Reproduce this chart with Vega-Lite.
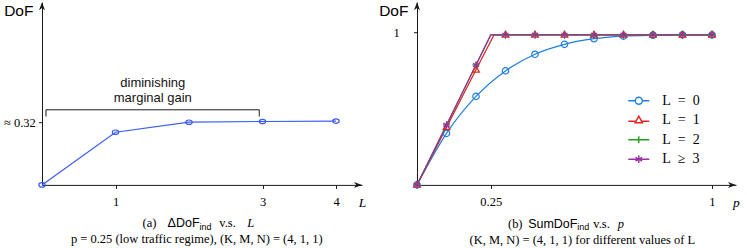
{
  "$schema": "https://vega.github.io/schema/vega-lite/v6.json",
  "background": "white",
  "autosize": {"type": "pad"},
  "padding": {"left": 3, "top": 1.2, "right": 0, "bottom": 0},
  "bounds": "flush",
  "spacing": 55,
  "config": {
    "view": {"stroke": null},
    "axis": {"grid": false, "domainColor": "#1a1a1a", "domainWidth": 1, "tickColor": "#1a1a1a", "tickWidth": 1, "tickSize": 3.5, "labelFont": "Liberation Serif", "labelFontSize": 12.5, "labelColor": "#000", "titleFont": "Liberation Sans", "titleFontWeight": "normal", "titleColor": "#000", "labelFlush": false, "labelOverlap": false},
    "axisX": {"labelPadding": 7, "labelBaseline": "top"}
  },
  "datasets": {
    "gain": [
      {"L": 0, "dof": 0},
      {"L": 1, "dof": 0.2685},
      {"L": 2, "dof": 0.3195},
      {"L": 3, "dof": 0.323},
      {"L": 4, "dof": 0.325}
    ],
    "bracket": [
      {"i": 0, "L": 0.054, "dof": 0.3485},
      {"i": 1, "L": 0.054, "dof": 0.3827},
      {"i": 2, "L": 2.956, "dof": 0.3827},
      {"i": 3, "L": 2.956, "dof": 0.3485}
    ],
    "note": [{"L": 1.507, "dof": 0.519, "text": "diminishing\nmarginal gain"}],
    "arrowLX": [{"L": 4.2996, "dof": 0}],
    "arrowLY": [{"L": 0, "dof": 0.9106}],
    "capLSerif": [{"L": 1.3687, "dof": -0.1967, "text": "(a)"}, {"L": 2.4122, "dof": -0.1967, "text": "v.s."}],
    "capLSans": [{"L": 1.7088, "dof": -0.1967, "text": "ΔDoF"}],
    "capLSub": [{"L": 2.1442, "dof": -0.2145, "text": "ind"}],
    "capLItal": [{"L": 2.7932, "dof": -0.1967, "text": "L"}],
    "capLLine2": [{"L": 2.1061, "dof": -0.2782, "text": "p = 0.25 (low traffic regime),  (K, M, N) = (4, 1, 1)"}],
    "sum": [
      {"series": "L = 0", "p": 0, "dof": 0, "marker": true},
      {"series": "L = 0", "p": 0.1, "dof": 0.338, "marker": true},
      {"series": "L = 0", "p": 0.2, "dof": 0.58, "marker": true},
      {"series": "L = 0", "p": 0.3, "dof": 0.747, "marker": true},
      {"series": "L = 0", "p": 0.4, "dof": 0.856, "marker": true},
      {"series": "L = 0", "p": 0.5, "dof": 0.921, "marker": true},
      {"series": "L = 0", "p": 0.6, "dof": 0.958, "marker": true},
      {"series": "L = 0", "p": 0.7, "dof": 0.975, "marker": true},
      {"series": "L = 0", "p": 0.8, "dof": 0.981, "marker": true},
      {"series": "L = 0", "p": 0.9, "dof": 0.983, "marker": true},
      {"series": "L = 0", "p": 1.0, "dof": 0.983, "marker": true},
      {"series": "L = 1", "p": 0, "dof": 0, "marker": true},
      {"series": "L = 1", "p": 0.1, "dof": 0.377, "marker": true},
      {"series": "L = 1", "p": 0.2, "dof": 0.754, "marker": true},
      {"series": "L = 1", "p": 0.261, "dof": 0.983, "marker": false},
      {"series": "L = 1", "p": 0.3, "dof": 0.983, "marker": true},
      {"series": "L = 1", "p": 0.4, "dof": 0.983, "marker": true},
      {"series": "L = 1", "p": 0.5, "dof": 0.983, "marker": true},
      {"series": "L = 1", "p": 0.6, "dof": 0.983, "marker": true},
      {"series": "L = 1", "p": 0.7, "dof": 0.983, "marker": true},
      {"series": "L = 1", "p": 0.8, "dof": 0.983, "marker": true},
      {"series": "L = 1", "p": 0.9, "dof": 0.983, "marker": true},
      {"series": "L = 1", "p": 1.0, "dof": 0.983, "marker": true},
      {"series": "L = 2", "p": 0, "dof": 0, "marker": true},
      {"series": "L = 2", "p": 0.1, "dof": 0.393, "marker": true},
      {"series": "L = 2", "p": 0.2, "dof": 0.786, "marker": true},
      {"series": "L = 2", "p": 0.25, "dof": 0.983, "marker": false},
      {"series": "L = 2", "p": 0.3, "dof": 0.983, "marker": true},
      {"series": "L = 2", "p": 0.4, "dof": 0.983, "marker": true},
      {"series": "L = 2", "p": 0.5, "dof": 0.983, "marker": true},
      {"series": "L = 2", "p": 0.6, "dof": 0.983, "marker": true},
      {"series": "L = 2", "p": 0.7, "dof": 0.983, "marker": true},
      {"series": "L = 2", "p": 0.8, "dof": 0.983, "marker": true},
      {"series": "L = 2", "p": 0.9, "dof": 0.983, "marker": true},
      {"series": "L = 2", "p": 1.0, "dof": 0.983, "marker": true},
      {"series": "L ≥ 3", "p": 0, "dof": 0, "marker": true},
      {"series": "L ≥ 3", "p": 0.1, "dof": 0.393, "marker": true},
      {"series": "L ≥ 3", "p": 0.2, "dof": 0.786, "marker": true},
      {"series": "L ≥ 3", "p": 0.25, "dof": 0.983, "marker": false},
      {"series": "L ≥ 3", "p": 0.3, "dof": 0.983, "marker": true},
      {"series": "L ≥ 3", "p": 0.4, "dof": 0.983, "marker": true},
      {"series": "L ≥ 3", "p": 0.5, "dof": 0.983, "marker": true},
      {"series": "L ≥ 3", "p": 0.6, "dof": 0.983, "marker": true},
      {"series": "L ≥ 3", "p": 0.7, "dof": 0.983, "marker": true},
      {"series": "L ≥ 3", "p": 0.8, "dof": 0.983, "marker": true},
      {"series": "L ≥ 3", "p": 0.9, "dof": 0.983, "marker": true},
      {"series": "L ≥ 3", "p": 1.0, "dof": 0.983, "marker": true}
    ],
    "arrowRX": [{"p": 1.0678, "dof": 0}],
    "arrowRY": [{"p": 0, "dof": 1.1710}],
    "capRSerif": [{"p": 0.3084, "dof": -0.2536, "text": "(b)"}, {"p": 0.5976, "dof": -0.2536, "text": "v.s."}],
    "capRSans": [{"p": 0.3769, "dof": -0.2536, "text": "SumDoF"}],
    "capRSub": [{"p": 0.5434, "dof": -0.2765, "text": "ind"}],
    "capRItal": [{"p": 0.6807, "dof": -0.2536, "text": "p"}],
    "capRLine2": [{"p": 0.5603, "dof": -0.3585, "text": "(K, M, N) = (4, 1, 1) for different values of L"}]
  },
  "hconcat": [
    {
      "width": 320,
      "height": 182.7,
      "encoding": {
        "x": {"field": "L", "type": "quantitative", "scale": {"domain": [0, 4.3537], "nice": false, "zero": false},
          "axis": {"values": [1, 3, 4], "labelExpr": "format(datum.value, '~g')", "labelFont": "Liberation Serif", "labelFontSize": 12.5, "labelColor": "#000", "labelPadding": 7, "labelBaseline": "top", "labelAlign": "center", "labelFlush": false, "labelOverlap": false, "tickSize": 3.5, "grid": false,
            "title": "L", "titleFont": "Liberation Serif", "titleFontStyle": "italic", "titleFontWeight": "normal", "titleColor": "#000", "titleFontSize": 13.5, "titleAnchor": "end", "titleAlign": "center", "titleBaseline": "middle", "titleY": 17.5,
            "encode": {"ticks": {"update": {"y": {"value": -3.5}, "y2": {"value": 3.5}}}}}},
        "y": {"field": "dof", "type": "quantitative", "scale": {"domain": [0, 0.931], "nice": false, "zero": false},
          "axis": {"values": [0.32], "labelExpr": "'≈ 0.32'", "labelFont": "Liberation Serif", "labelFontSize": 12.5, "labelColor": "#000", "labelPadding": 3.2, "labelBaseline": "middle", "labelAlign": "right", "labelFlush": false, "labelOverlap": false, "tickSize": 3.5, "grid": false,
            "title": "DoF", "titleFont": "Liberation Sans", "titleFontWeight": "normal", "titleColor": "#000", "titleAngle": 0, "titleX": -23.7, "titleY": 8.3, "titleAlign": "center", "titleBaseline": "middle", "titleFontSize": 15.5,
            "encode": {"ticks": {"update": {"x": {"value": -3.5}, "x2": {"value": 3.5}}}}}}
      },
      "layer": [
        {
          "data": {"name": "gain"},
          "mark": {"type": "line", "color": "#3a5cf5", "strokeWidth": 1.2}
        },
        {
          "data": {"name": "gain"},
          "mark": {"type": "point", "shape": "M-1,0A1,0.7 0 1,1 1,0A1,0.7 0 1,1 -1,0Z", "size": 40, "filled": false, "color": "#3a5cf5", "strokeWidth": 1.2, "opacity": 1}
        },
        {
          "data": {"name": "bracket"},
          "mark": {"type": "line", "color": "#1a1a1a", "strokeWidth": 1},
          "encoding": {"order": {"field": "i", "type": "quantitative"}}
        },
        {
          "data": {"name": "note"},
          "mark": {"type": "text", "font": "Liberation Sans", "fontSize": 13, "lineBreak": "\n", "lineHeight": 14.5, "align": "center", "baseline": "middle", "color": "#111"},
          "encoding": {"text": {"field": "text"}}
        },
        {
          "data": {"name": "arrowLX"},
          "mark": {"type": "point", "shape": "M1,0L-1,-0.75L-0.45,0L-1,0.75Z", "size": 64, "filled": true, "color": "#1a1a1a", "opacity": 1, "strokeWidth": 0}
        },
        {
          "data": {"name": "arrowLY"},
          "mark": {"type": "point", "shape": "M0,-1L0.75,1L0,0.45L-0.75,1Z", "size": 64, "filled": true, "color": "#1a1a1a", "opacity": 1, "strokeWidth": 0}
        },
        {
          "data": {"name": "capLSerif"},
          "mark": {"type": "text", "font": "Liberation Serif", "fontSize": 12.5, "align": "left", "baseline": "middle", "color": "#000"},
          "encoding": {"text": {"field": "text"}}
        },
        {
          "data": {"name": "capLSans"},
          "mark": {"type": "text", "font": "Liberation Sans", "fontSize": 12.5, "align": "left", "baseline": "middle", "color": "#000"},
          "encoding": {"text": {"field": "text"}}
        },
        {
          "data": {"name": "capLSub"},
          "mark": {"type": "text", "font": "Liberation Sans", "fontSize": 9, "align": "left", "baseline": "middle", "color": "#000"},
          "encoding": {"text": {"field": "text"}}
        },
        {
          "data": {"name": "capLItal"},
          "mark": {"type": "text", "font": "Liberation Serif", "fontSize": 12.5, "fontStyle": "italic", "align": "left", "baseline": "middle", "color": "#000"},
          "encoding": {"text": {"field": "text"}}
        },
        {
          "data": {"name": "capLLine2"},
          "mark": {"type": "text", "font": "Liberation Serif", "fontSize": 12.5, "align": "center", "baseline": "middle", "color": "#000"},
          "encoding": {"text": {"field": "text"}}
        }
      ]
    },
    {
      "width": 319,
      "height": 182.7,
      "resolve": {"scale": {"shape": "independent", "stroke": "independent"}, "legend": {"shape": "independent", "stroke": "independent"}},
      "encoding": {
        "x": {"field": "p", "type": "quantitative", "scale": {"domain": [0, 1.0814], "nice": false, "zero": false},
          "axis": {"values": [0.25, 1], "labelExpr": "format(datum.value, '~g')", "labelFont": "Liberation Serif", "labelFontSize": 12.5, "labelColor": "#000", "labelPadding": 7, "labelBaseline": "top", "labelAlign": "center", "labelFlush": false, "labelOverlap": false, "tickSize": 3.5, "grid": false,
            "title": "p", "titleFont": "Liberation Serif", "titleFontStyle": "italic", "titleFontWeight": "normal", "titleColor": "#000", "titleFontSize": 13.5, "titleAnchor": "end", "titleAlign": "center", "titleBaseline": "middle", "titleY": 17.5,
            "encode": {"ticks": {"update": {"y": {"value": -3.5}, "y2": {"value": 3.5}}}}}},
        "y": {"field": "dof", "type": "quantitative", "scale": {"domain": [0, 1.1972], "nice": false, "zero": false},
          "axis": {"values": [1], "labelExpr": "format(datum.value, '~g')", "labelFont": "Liberation Serif", "labelFontSize": 12.5, "labelColor": "#000", "labelPadding": 14.2, "labelBaseline": "middle", "labelAlign": "right", "labelFlush": false, "labelOverlap": false, "tickSize": 3.5, "grid": false,
            "title": "DoF", "titleFont": "Liberation Sans", "titleFontWeight": "normal", "titleColor": "#000", "titleAngle": 0, "titleX": -23.7, "titleY": 8.3, "titleAlign": "center", "titleBaseline": "middle", "titleFontSize": 15.5,
            "encode": {"ticks": {"update": {"x": {"value": -3.5}, "x2": {"value": 3.5}}}}}}
      },
      "layer": [
        {
          "data": {"name": "sum"},
          "transform": [{"filter": "datum.series === 'L = 0'"}],
          "mark": {"type": "line", "interpolate": "monotone", "strokeWidth": 1.2},
          "encoding": {
            "color": {"field": "series", "type": "nominal", "scale": {"domain": ["L = 0", "L = 1", "L = 2", "L ≥ 3"], "range": ["#1f7fe0", "#e02420", "#22a022", "#992fa0"]}, "legend": null}
          }
        },
        {
          "data": {"name": "sum"},
          "transform": [{"filter": "datum.series !== 'L = 0'"}],
          "mark": {"type": "line", "strokeWidth": 1.2},
          "encoding": {
            "color": {"field": "series", "type": "nominal", "legend": null}
          }
        },
        {
          "data": {"name": "sum"},
          "transform": [{"filter": "datum.marker"}],
          "mark": {"type": "point", "size": 42, "filled": false, "strokeWidth": 1.2, "opacity": 1},
          "encoding": {
            "color": {"field": "series", "type": "nominal", "legend": null},
            "shape": {"field": "series", "type": "nominal", "scale": {"domain": ["L = 0", "L = 1", "L = 2", "L ≥ 3"], "range": ["M-1,0A1,1 0 1,1 1,0A1,1 0 1,1 -1,0Z", "M0,-1.15L1.05,0.7L-1.05,0.7Z", "M-1.1,0H1.1M0,-1.1V1.1", "M0,-1.1V1.1M-0.95,-0.55L0.95,0.55M-0.95,0.55L0.95,-0.55"]}, "legend": null}
          }
        },
        {
          "data": {"name": "sum"},
          "transform": [{"filter": "datum.p < 0"}],
          "mark": {"type": "point", "size": 49, "filled": false, "strokeWidth": 1.4, "opacity": 1},
          "encoding": {
            "stroke": {"field": "series", "type": "nominal",
              "scale": {"domain": ["L = 0", "L = 1", "L = 2", "L ≥ 3"], "range": ["#1f7fe0", "#e02420", "#22a022", "#992fa0"]},
              "legend": {"orient": "none", "legendX": 214.8, "legendY": 91.5, "title": null, "padding": 0,
                "labelFont": "Liberation Serif", "labelFontSize": 14, "labelColor": "#000", "labelOffset": 16.5, "rowPadding": 5.5,
                "symbolSize": 49, "symbolStrokeWidth": 1.4, "symbolOpacity": 1,
                "labelExpr": "replace(replace(datum.label, ' ', '\u2002'), ' ', '\u2002')"}},
            "shape": {"field": "series", "type": "nominal",
              "scale": {"domain": ["L = 0", "L = 1", "L = 2", "L ≥ 3"], "range": ["M-3,0H-1M1,0H3M-1,0A1,1 0 1,1 1,0A1,1 0 1,1 -1,0Z", "M-3,0.3H-0.79M0.79,0.3H3M0,-1.15L1.05,0.75L-1.05,0.75Z", "M-3,0H3M0,-1V1", "M-3,0H3M0,-1.1V1.1M-0.95,-0.55L0.95,0.55M-0.95,0.55L0.95,-0.55"]},
              "legend": {"orient": "none", "legendX": 214.8, "legendY": 91.5, "title": null, "padding": 0,
                "labelFont": "Liberation Serif", "labelFontSize": 14, "labelColor": "#000", "labelOffset": 16.5, "rowPadding": 5.5,
                "symbolSize": 49, "symbolStrokeWidth": 1.4, "symbolOpacity": 1,
                "labelExpr": "replace(replace(datum.label, ' ', '\u2002'), ' ', '\u2002')"}}
          }
        },
        {
          "data": {"name": "arrowRX"},
          "mark": {"type": "point", "shape": "M1,0L-1,-0.75L-0.45,0L-1,0.75Z", "size": 64, "filled": true, "color": "#1a1a1a", "opacity": 1, "strokeWidth": 0}
        },
        {
          "data": {"name": "arrowRY"},
          "mark": {"type": "point", "shape": "M0,-1L0.75,1L0,0.45L-0.75,1Z", "size": 64, "filled": true, "color": "#1a1a1a", "opacity": 1, "strokeWidth": 0}
        },
        {
          "data": {"name": "capRSerif"},
          "mark": {"type": "text", "font": "Liberation Serif", "fontSize": 12.5, "align": "left", "baseline": "middle", "color": "#000"},
          "encoding": {"text": {"field": "text"}}
        },
        {
          "data": {"name": "capRSans"},
          "mark": {"type": "text", "font": "Liberation Sans", "fontSize": 12.5, "align": "left", "baseline": "middle", "color": "#000"},
          "encoding": {"text": {"field": "text"}}
        },
        {
          "data": {"name": "capRSub"},
          "mark": {"type": "text", "font": "Liberation Sans", "fontSize": 9, "align": "left", "baseline": "middle", "color": "#000"},
          "encoding": {"text": {"field": "text"}}
        },
        {
          "data": {"name": "capRItal"},
          "mark": {"type": "text", "font": "Liberation Serif", "fontSize": 12.5, "fontStyle": "italic", "align": "left", "baseline": "middle", "color": "#000"},
          "encoding": {"text": {"field": "text"}}
        },
        {
          "data": {"name": "capRLine2"},
          "mark": {"type": "text", "font": "Liberation Serif", "fontSize": 12.5, "align": "center", "baseline": "middle", "color": "#000"},
          "encoding": {"text": {"field": "text"}}
        }
      ]
    }
  ]
}
